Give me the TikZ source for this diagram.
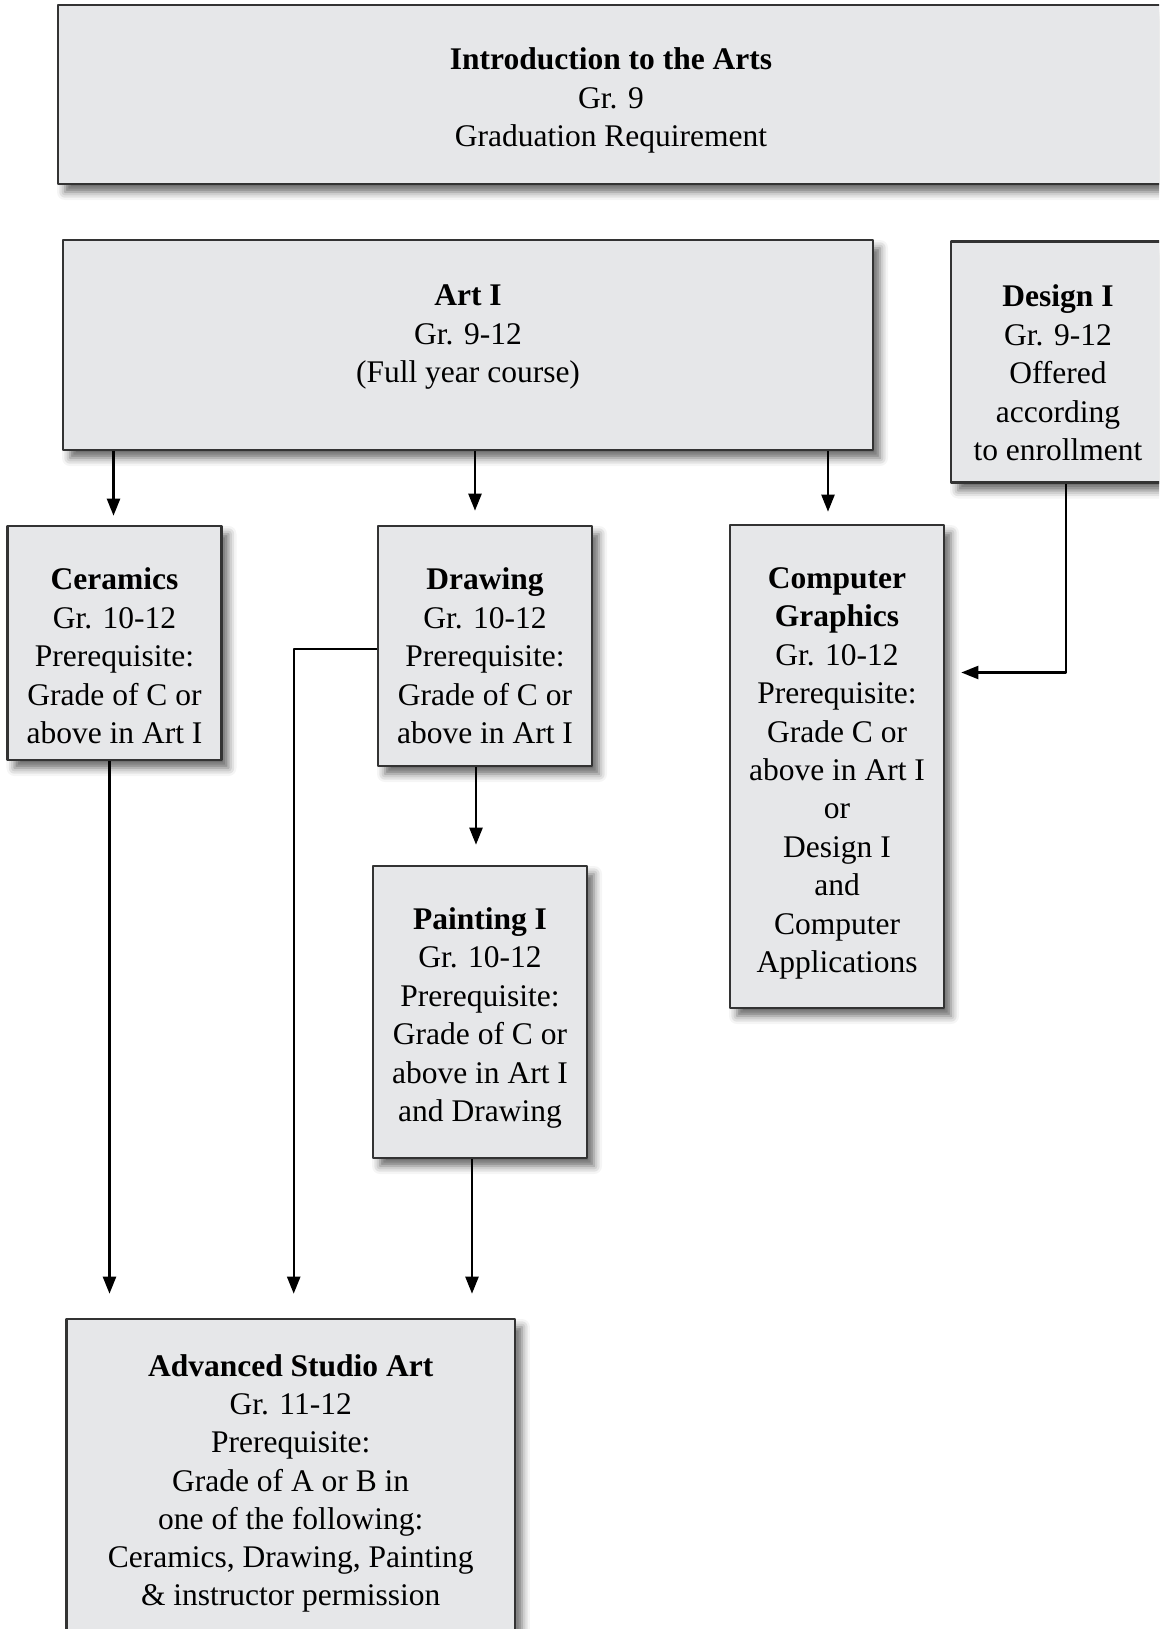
\documentclass[tikz,border=0pt]{standalone}
\usepackage{fontspec}
\setmainfont{Liberation Serif}
\usetikzlibrary{arrows.meta,shadows.blur}
\definecolor{boxgray}{HTML}{E6E7E9}
\definecolor{edgegray}{HTML}{333333}
\begin{document}
\begin{tikzpicture}[x=1pt,y=1pt,line join=round,
 box/.style={draw=edgegray,line width=2.6pt,fill=boxgray,inner sep=0pt,
  blur shadow={shadow xshift=7pt,shadow yshift=-8pt,shadow blur radius=8pt,shadow opacity=60}},
 txt/.style={align=center,inner sep=0pt,font=\fontsize{31.5}{38.4}\selectfont},
 arr/.style={line width=2.3pt,-{Triangle[length=17pt,width=13pt]}}]
 \useasboundingbox (0,0) rectangle (1159,-1629);
 \clip (0,0) rectangle (1159,-1629);
 \node[box,minimum width=1106pt,minimum height=179pt,label={[txt,yshift=-6pt]center:\textbf{Introduction to the Arts}\\Gr. 9\\Graduation Requirement}](intro) at (611,-94.5){};
 \node[box,minimum width=810pt,minimum height=210pt,label={[txt,yshift=8pt]center:\textbf{Art I}\\Gr. 9-12\\(Full year course)}](art) at (468,-345){};
 \node[box,minimum width=214pt,minimum height=241pt,label={[txt,yshift=-11pt]center:\textbf{Design I}\\Gr. 9-12\\Offered\\according\\to enrollment}](des) at (1058,-362){};
 \node[box,minimum width=214pt,minimum height=234pt,label={[txt,yshift=-13pt]center:\textbf{Ceramics}\\Gr. 10-12\\Prerequisite:\\Grade of C or\\above in Art I}](cer) at (114.5,-643){};
 \node[box,minimum width=214pt,minimum height=240pt,label={[txt,yshift=-10pt]center:\textbf{Drawing}\\Gr. 10-12\\Prerequisite:\\Grade of C or\\above in Art I}](dra) at (485,-646){};
 \node[box,minimum width=214pt,minimum height=483pt,label={[txt,yshift=-7pt]center:\textbf{Computer}\\\textbf{Graphics}\\Gr. 10-12\\Prerequisite:\\Grade C or\\above in Art I\\or\\Design I\\and\\Computer\\Applications}](cg) at (837,-766.5){};
 \node[box,minimum width=214pt,minimum height=292pt,label={[txt,yshift=-6pt]center:\textbf{Painting I}\\Gr. 10-12\\Prerequisite:\\Grade of C or\\above in Art I\\and Drawing}](pai) at (480,-1012){};
 \node[box,minimum width=448.5pt,minimum height=331pt,label={[txt,yshift=1pt,font=\fontsize{31.5}{38.2}\selectfont]center:\textbf{Advanced Studio Art}\\Gr. 11-12\\Prerequisite:\\Grade of A or B in\\one of the following:\\Ceramics, Drawing, Painting\\\& instructor permission}](adv) at (290.7,-1484.5){};
 \coordinate (advtop) at ([yshift=24pt]adv.north);
 \draw[arr] ([xshift=-1pt]cer.north |- art.south) -- ([xshift=-1pt,yshift=9pt]cer.north);
 \draw[arr] ([xshift=-10pt]dra.north |- art.south) -- ([xshift=-10pt,yshift=14pt]dra.north);
 \draw[arr] ([xshift=-9pt]cg.north |- art.south) -- ([xshift=-9pt,yshift=12pt]cg.north);
 \draw[arr] ([xshift=8pt]des.south) |- ([xshift=16pt,yshift=94pt]cg.east);
 \draw[arr] ([xshift=-9pt]dra.south) -- ([xshift=-4pt,yshift=20pt]pai.north);
 \draw[arr] ([yshift=-3pt]dra.west) -| ([xshift=3pt]advtop);
 \draw[arr] ([xshift=-5pt]cer.south) -- ([xshift=-5pt]cer.south |- advtop);
 \draw[arr] ([xshift=-8pt]pai.south) -- ([xshift=-8pt]pai.south |- advtop);
\end{tikzpicture}
\end{document}
